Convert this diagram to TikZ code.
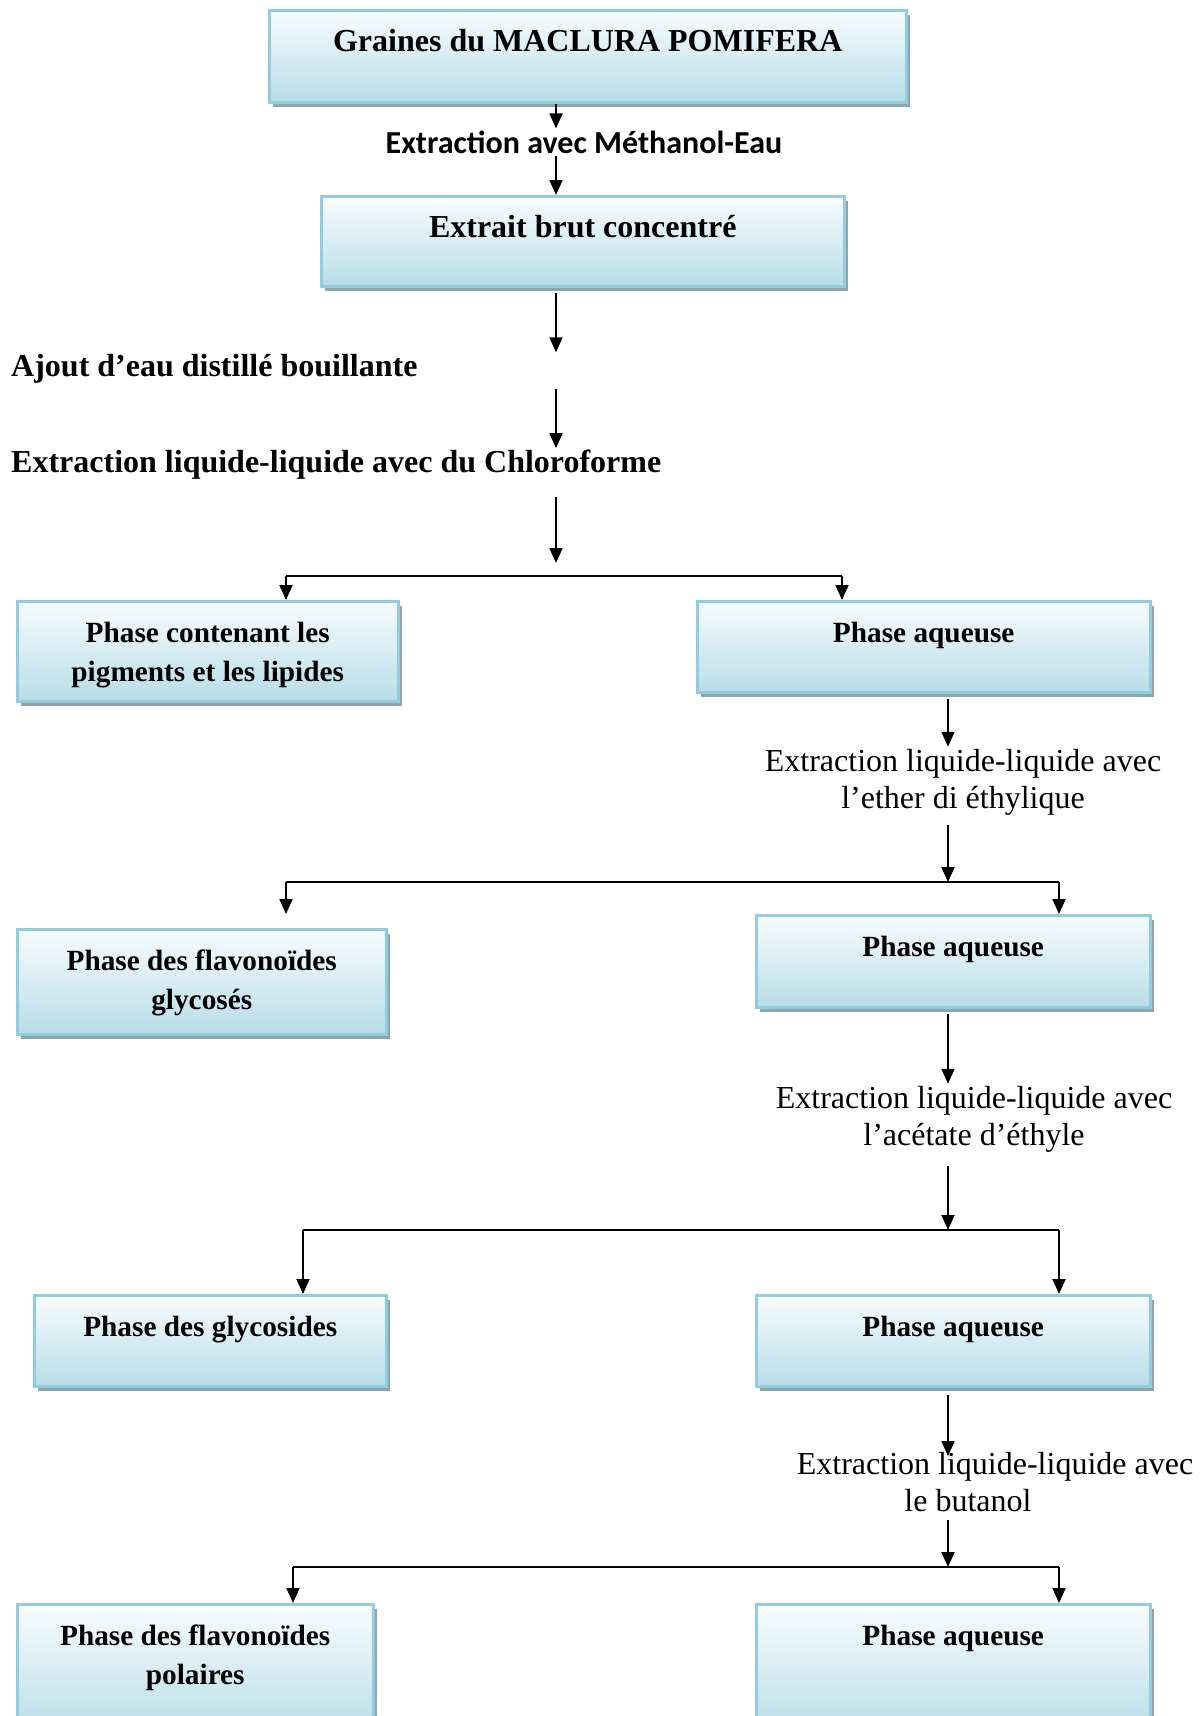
\documentclass[tikz,border=0pt]{standalone}
\usepackage{fontspec}
\setmainfont{Liberation Serif}
\newfontfamily\calibri{Carlito}
\usetikzlibrary{arrows.meta,shadows,calc}
\definecolor{bordbleu}{HTML}{93CDDD}
\definecolor{hautbleu}{HTML}{F8FCFD}
\definecolor{basbleu}{HTML}{B7DDE8}
\definecolor{ombre}{HTML}{8DA6AD}
% contenu d'une boite : largeur, hauteur, texte
\newcommand{\boite}[3]{\parbox[c][#2pt][t]{#1pt}{\centering\rule{0pt}{41pt}#3}}

\begin{document}
\begin{tikzpicture}
  [
   x=1pt, y=-1pt, % coordonnees en pixels, y vers le bas
   phase/.style={draw=bordbleu, line width=2.5pt, top color=hautbleu, bottom color=basbleu,
                 drop shadow={shadow xshift=4pt, shadow yshift=-5pt, fill=ombre, opacity=1},
                 anchor=north west, inner sep=0pt, font=\bfseries\fontsize{29.3}{39}\selectfont},
   grand/.style={font=\bfseries\fontsize{32}{38}\selectfont},
   etape/.style={inner sep=2pt, font=\fontsize{32}{37}\selectfont, align=center},
   fleche/.style={-{Triangle[width=13pt,length=15pt]}, line width=2pt},
   trait/.style={line width=2pt}
  ]
  \useasboundingbox (0,0) rectangle (1204,1716);

  % boites
  \node[phase, grand] (graines) at (268,9)   {\boite{637}{92}{Graines du MACLURA POMIFERA}};
  \node[phase, grand] (brut)    at (320,195) {\boite{523}{90}{Extrait brut concentré}};
  \node[phase] (lipides) at (16,600)  {\boite{381}{100}{Phase contenant les\\pigments et les lipides}};
  \node[phase] (aqA)     at (696,600) {\boite{453}{91}{Phase aqueuse}};
  \node[phase] (glycoses) at (16,928) {\boite{369}{105}{Phase des flavonoïdes\\glycosés}};
  \node[phase] (aqB)     at (755,914) {\boite{394}{92}{Phase aqueuse}};
  \node[phase] (glycosides) at (33,1294) {\boite{352}{91}{Phase des glycosides}};
  \node[phase] (aqC)     at (755,1294) {\boite{394}{91}{Phase aqueuse}};
  \node[phase] (polaires) at (16,1603) {\boite{356}{130}{Phase des flavonoïdes\\polaires}};
  \node[phase] (aqD)     at (755,1603) {\boite{394}{130}{Phase aqueuse}};

  % etapes
  \node[etape, font=\calibri\bfseries\fontsize{32}{38}\selectfont] (methanol) at (584,142) {Extraction avec Méthanol-Eau};
  \node[etape, font=\bfseries\fontsize{32}{37}\selectfont, anchor=west] (ajout) at (9,369) {Ajout d’eau distillé bouillante};
  \node[etape, font=\bfseries\fontsize{32}{37}\selectfont, anchor=west] (chloro) at (9,465) {Extraction liquide-liquide avec du Chloroforme};
  \node[etape] (ether)   at (963,782)  {Extraction liquide-liquide avec\\l’ether di éthylique};
  \node[etape] (acetate) at (974,1119) {Extraction liquide-liquide avec\\l’acétate d’éthyle};
  \node[etape] (butanol) at (995,1482) {Extraction liquide-liquide avec\\le butanol\hspace*{54pt}};

  % colonnes des fleches et embranchements
  \coordinate (colA) at (556,0);
  \coordinate (colB) at (948,0);
  \coordinate (finA) at (556,563);
  \coordinate (g1) at (286,576);  \coordinate (d1) at (842,576);
  \coordinate (g2) at (286,882);  \coordinate (d2) at (1059,882);
  \coordinate (g3) at (303,1230); \coordinate (d3) at (1059,1230);
  \coordinate (g4) at (293,1567); \coordinate (d4) at (1059,1567);

  \draw[fleche] (graines.south -| colA) -- (methanol.north -| colA);
  \draw[fleche] (methanol.south -| colA) -- (brut.north -| colA);
  \draw[fleche] ([yshift=-5pt]brut.south -| colA) -- (ajout.north -| colA);
  \draw[fleche] ([yshift=-3pt]ajout.south -| colA) -- (chloro.north -| colA);
  \draw[fleche] ([yshift=-15pt]chloro.south -| colA) -- (finA);
  \draw[trait] (g1) -- (d1);
  \draw[fleche] (g1) -- (g1 |- lipides.north);
  \draw[fleche] (d1) -- (d1 |- aqA.north);

  \draw[fleche] ([yshift=-5pt]aqA.south -| colB) -- (ether.north -| colB);
  \draw[fleche] ([yshift=-8pt]ether.south -| colB) -- (g2 -| colB);
  \draw[trait] (g2) -- (d2);
  \draw[fleche] (g2) -- (g2 |- aqB.north);
  \draw[fleche] (d2) -- (d2 |- aqB.north);

  \draw[fleche] ([yshift=-5pt]aqB.south -| colB) -- (acetate.north -| colB);
  \draw[fleche] ([yshift=-12pt]acetate.south -| colB) -- (g3 -| colB);
  \draw[trait] (g3) -- (d3);
  \draw[fleche] (g3) -- (g3 |- aqC.north);
  \draw[fleche] (d3) -- (d3 |- aqC.north);

  \draw[fleche] ([yshift=-7pt]aqC.south -| colB) -- ([yshift=-6pt]butanol.north -| colB);
  \draw[fleche] ([yshift=-6pt]butanol.south -| colB) -- (g4 -| colB);
  \draw[trait] (g4) -- (d4);
  \draw[fleche] (g4) -- (g4 |- aqD.north);
  \draw[fleche] (d4) -- (d4 |- aqD.north);
\end{tikzpicture}
\end{document}
